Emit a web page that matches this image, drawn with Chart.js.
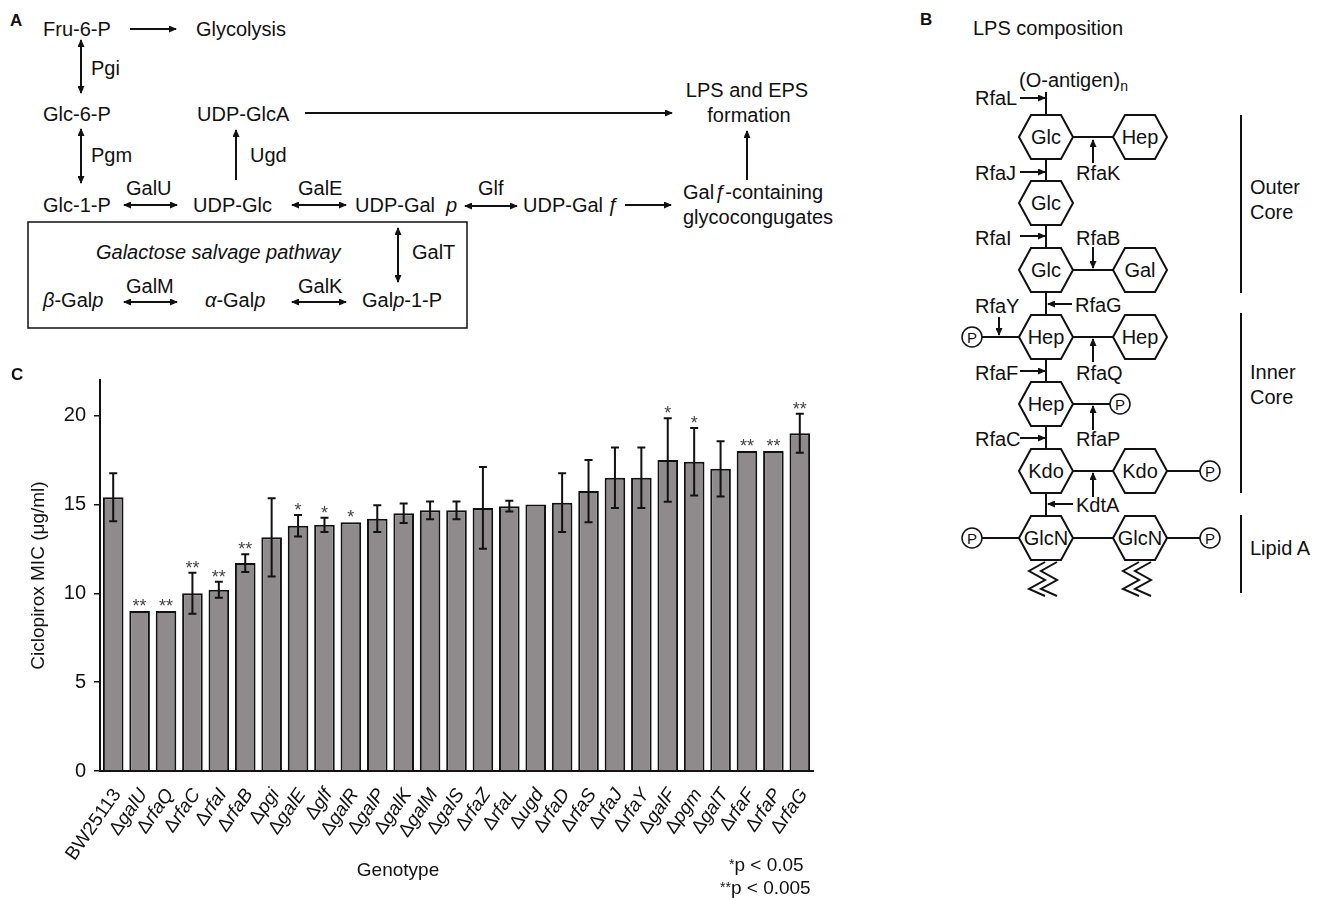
<!DOCTYPE html>
<html lang="en">
<head>
<meta charset="utf-8">
<title>Ciclopirox MIC</title>
<script src="https://cdn.jsdelivr.net/npm/chart.js@4/dist/chart.umd.min.js"></script>
<style>
    html, body { margin: 0; padding: 0; background: #fff; }
    body { width: 1320px; height: 898px; position: relative; overflow: hidden; font-family: 'Liberation Sans', Arial, sans-serif; }
    #diagramas { position: absolute; left: 0; top: 0; }
    #diagramas text { font-family: 'Liberation Sans', Arial, sans-serif; font-size: 20px; fill: #111; }
    #diagramas .it { font-style: italic; }
    #diagramas .bold { font-weight: bold; font-size: 17px; }
    #diagramas .lin { stroke: #111; stroke-width: 2; fill: none; }
    #caixaGrafico { position: absolute; left: 0; top: 360px; width: 840px; height: 538px; }
    .legenda { position: absolute; font-size: 19px; color: #111; white-space: nowrap; line-height: 1; }
    .legenda .ast { font-size: 14px; vertical-align: 2px; }
</style>
</head>
<body>

<!-- Painéis A e B (esquemas) -->
<svg id="diagramas" width="1320" height="898" xmlns="http://www.w3.org/2000/svg">
    <defs>
        <marker id="seta" viewBox="0 0 8 7" refX="7" refY="3.5" markerWidth="8" markerHeight="7"
                markerUnits="userSpaceOnUse" orient="auto-start-reverse">
            <path d="M0,0 L8,3.5 L0,7 z" fill="#111"/>
        </marker>
    </defs>

    <!-- A -->
    <text class="bold" x="10" y="26">A</text>
    <text x="43" y="36">Fru-6-P</text>
    <text x="196" y="36">Glycolysis</text>
    <text x="91" y="75">Pgi</text>
    <text x="43" y="121">Glc-6-P</text>
    <text x="197" y="121">UDP-GlcA</text>
    <text x="747" y="97" text-anchor="middle">LPS and EPS</text>
    <text x="749" y="122" text-anchor="middle">formation</text>
    <text x="91" y="162">Pgm</text>
    <text x="250" y="162">Ugd</text>
    <text x="43" y="212">Glc-1-P</text>
    <text x="126" y="195">GalU</text>
    <text x="193" y="212">UDP-Glc</text>
    <text x="298" y="195">GalE</text>
    <text x="355" y="212">UDP-Gal <tspan class="it" x="446">p</tspan></text>
    <text x="478" y="195">Glf</text>
    <text x="523" y="212">UDP-Gal<tspan class="it" x="607">ƒ</tspan></text>
    <text x="683" y="199">Gal<tspan class="it">ƒ</tspan>-containing</text>
    <text x="683" y="224">glycocongugates</text>
    <rect x="28" y="222" width="439" height="106" class="lin" style="stroke-width:1.5"/>
    <text class="it" x="96" y="259">Galactose salvage pathway</text>
    <text x="412" y="259">GalT</text>
    <text x="43" y="307"><tspan class="it">β</tspan>-Gal<tspan class="it">p</tspan></text>
    <text x="126" y="293">GalM</text>
    <text x="205" y="307"><tspan class="it">α</tspan>-Gal<tspan class="it">p</tspan></text>
    <text x="298" y="293">GalK</text>
    <text x="362" y="307">Gal<tspan class="it">p</tspan>-1-P</text>

    <line class="lin" x1="130" y1="29" x2="176" y2="29" marker-end="url(#seta)"/>
    <line class="lin" x1="81" y1="40" x2="81" y2="93" marker-start="url(#seta)" marker-end="url(#seta)"/>
    <line class="lin" x1="305" y1="113" x2="672" y2="113" marker-end="url(#seta)"/>
    <line class="lin" x1="81" y1="129" x2="81" y2="183" marker-start="url(#seta)" marker-end="url(#seta)"/>
    <line class="lin" x1="236" y1="180" x2="236" y2="130" marker-end="url(#seta)"/>
    <line class="lin" x1="747" y1="180" x2="747" y2="131" marker-end="url(#seta)"/>
    <line class="lin" x1="124" y1="205" x2="177" y2="205" marker-start="url(#seta)" marker-end="url(#seta)"/>
    <line class="lin" x1="292" y1="205" x2="346" y2="205" marker-start="url(#seta)" marker-end="url(#seta)"/>
    <line class="lin" x1="465" y1="206" x2="517" y2="206" marker-start="url(#seta)" marker-end="url(#seta)"/>
    <line class="lin" x1="625" y1="205" x2="671" y2="205" marker-end="url(#seta)"/>
    <line class="lin" x1="398" y1="228" x2="398" y2="282" marker-start="url(#seta)" marker-end="url(#seta)"/>
    <line class="lin" x1="124" y1="302" x2="177" y2="302" marker-start="url(#seta)" marker-end="url(#seta)"/>
    <line class="lin" x1="292" y1="302" x2="346" y2="302" marker-start="url(#seta)" marker-end="url(#seta)"/>

    <!-- B -->
    <text class="bold" x="920" y="25">B</text>
    <text x="973" y="35">LPS composition</text>
    <text x="1019" y="87">(O-antigen)<tspan font-size="14" dy="4">n</tspan></text>
    <g id="esqueletoB"></g>
</svg>

<div id="caixaGrafico"><canvas id="graficoMIC"></canvas></div>
<div class="legenda" style="left:729px; top:855px;"><span class="ast">*</span>p &lt; 0.05</div>
<div class="legenda" style="left:720px; top:878px;"><span class="ast">**</span>p &lt; 0.005</div>

<script>
// Dados do painel C
const genotipos = ['BW25113', 'ΔgalU', 'ΔrfaQ', 'ΔrfaC', 'ΔrfaI', 'ΔrfaB', 'Δpgi', 'ΔgalE', 'Δglf',
    'ΔgalR', 'ΔgalP', 'ΔgalK', 'ΔgalM', 'ΔgalS', 'ΔrfaZ', 'ΔrfaL', 'Δugd', 'ΔrfaD', 'ΔrfaS',
    'ΔrfaJ', 'ΔrfaY', 'ΔgalF', 'Δpgm', 'ΔgalT', 'ΔrfaF', 'ΔrfaP', 'ΔrfaG'];
const mic = [15.4, 9, 9, 10, 10.2, 11.7, 13.15, 13.8, 13.85, 14, 14.2, 14.5, 14.67, 14.67,
    14.8, 14.9, 15, 15.1, 15.75, 16.5, 16.5, 17.5, 17.4, 17, 18, 18, 19];
const erroPadrao = [1.35, 0, 0, 1.15, 0.45, 0.5, 2.2, 0.6, 0.4, 0, 0.75, 0.55, 0.5, 0.5,
    2.3, 0.3, 0, 1.65, 1.75, 1.7, 1.7, 2.35, 1.9, 1.55, 0, 0, 1.1];
const significancia = ['', '**', '**', '**', '**', '**', '', '*', '*', '*', '', '', '', '',
    '', '', '', '', '', '', '', '*', '*', '', '**', '**', '**'];
const yMax = 22;
const yPasso = 5;

const FONTE = "'Liberation Sans', Arial, sans-serif";

// Esqueleto do LPS (painel B) desenhado em SVG
function desenharLPS() {
    const g = document.getElementById('esqueletoB');
    let html = '';
    const linha = (x1, y1, x2, y2, seta) =>
        `<line class="lin" x1="${x1}" y1="${y1}" x2="${x2}" y2="${y2}"${seta ? ' marker-end="url(#seta)"' : ''}/>`;
    const texto = (x, y, t, extra) => `<text x="${x}" y="${y + 7}" ${extra || ''}>${t}</text>`;
    const hexagono = (cx, cy, nome) => {
        const p = [[cx - 27, cy], [cx - 15, cy - 22], [cx + 15, cy - 22], [cx + 27, cy], [cx + 15, cy + 22], [cx - 15, cy + 22]];
        return `<polygon class="lin" points="${p.map(v => v.join(',')).join(' ')}"/>` +
            texto(cx, cy, nome, 'text-anchor="middle"');
    };
    const fosfato = (cx, cy) => `<circle class="lin" cx="${cx}" cy="${cy}" r="10" style="stroke-width:1.5"/>` +
        `<text x="${cx}" y="${cy + 5.5}" text-anchor="middle" style="font-size:15px">P</text>`;

    const xc = 1046, xd = 1140;
    const ys = [137, 203, 270, 337, 404, 471, 538];

    // ligações verticais
    html += linha(xc, 92, xc, 115);
    for (let i = 0; i < ys.length - 1; i++) html += linha(xc, ys[i] + 22, xc, ys[i + 1] - 22);
    // ligações horizontais
    html += linha(1073, 137, 1113, 137) + linha(1073, 270, 1113, 270) + linha(1073, 337, 1113, 337);
    html += linha(982, 337, 1019, 337) + linha(1073, 404, 1110, 404);
    html += linha(1073, 471, 1113, 471) + linha(1167, 471, 1200, 471);
    html += linha(982, 538, 1019, 538) + linha(1073, 538, 1113, 538) + linha(1167, 538, 1200, 538);

    html += hexagono(xc, 137, 'Glc') + hexagono(xd, 137, 'Hep');
    html += hexagono(xc, 203, 'Glc');
    html += hexagono(xc, 270, 'Glc') + hexagono(xd, 270, 'Gal');
    html += hexagono(xc, 337, 'Hep') + hexagono(xd, 337, 'Hep');
    html += hexagono(xc, 404, 'Hep');
    html += hexagono(xc, 471, 'Kdo') + hexagono(xd, 471, 'Kdo');
    html += hexagono(xc, 538, 'GlcN') + hexagono(xd, 538, 'GlcN');
    html += fosfato(972, 337) + fosfato(1120, 404) + fosfato(1210, 471) + fosfato(972, 538) + fosfato(1210, 538);

    // enzimas
    html += texto(975, 98, 'RfaL') + linha(1020, 98, 1045, 98, true);
    html += texto(1076, 173, 'RfaK') + linha(1093, 163, 1093, 140, true);
    html += texto(975, 173, 'RfaJ') + linha(1020, 172, 1045, 172, true);
    html += texto(975, 238, 'RfaI') + linha(1020, 236, 1045, 236, true);
    html += texto(1076, 238, 'RfaB') + linha(1093, 247, 1093, 268, true);
    html += texto(975, 306, 'RfaY') + linha(999, 317, 999, 335, true);
    html += texto(1075, 305, 'RfaG') + linha(1072, 304, 1048, 304, true);
    html += texto(1076, 373, 'RfaQ') + linha(1093, 362, 1093, 339, true);
    html += texto(975, 373, 'RfaF') + linha(1020, 371, 1045, 371, true);
    html += texto(1076, 439, 'RfaP') + linha(1093, 430, 1093, 406, true);
    html += texto(975, 439, 'RfaC') + linha(1020, 438, 1045, 438, true);
    html += linha(1093, 497, 1093, 473, true);
    html += texto(1076, 505, 'KdtA') + linha(1073, 504, 1048, 504, true);

    // cadeias lipídicas
    [1043, 1137].forEach(cx => {
        [-6, 6].forEach(dx => {
            const x = cx + dx;
            html += `<polyline class="lin" points="${x + 8},562 ${x - 8},571 ${x + 8},580 ${x - 8},589 ${x + 8},596"/>`;
        });
    });

    // chaves laterais
    html += linha(1241, 115, 1241, 293) + linha(1241, 313, 1241, 493) + linha(1241, 515, 1241, 593);
    html += texto(1250, 187, 'Outer') + texto(1250, 212, 'Core');
    html += texto(1250, 372, 'Inner') + texto(1250, 397, 'Core');
    html += texto(1250, 548, 'Lipid A');

    g.innerHTML = html;
}

// Plugin: barras de erro, asteriscos, rótulos do eixo x e letra do painel
const pluginExtras = {
    id: 'extras',
    afterDatasetsDraw(chart) {
        const ctx = chart.ctx;
        const yScale = chart.scales.y;
        const meta = chart.getDatasetMeta(0);
        ctx.save();
        ctx.strokeStyle = '#111';
        ctx.lineWidth = 2;
        meta.data.forEach((barra, i) => {
            let topo = yScale.getPixelForValue(mic[i]);
            const e = erroPadrao[i];
            if (e > 0) {
                const y1 = yScale.getPixelForValue(mic[i] + e);
                const y2 = yScale.getPixelForValue(mic[i] - e);
                ctx.beginPath();
                ctx.moveTo(barra.x, y1); ctx.lineTo(barra.x, y2);
                ctx.moveTo(barra.x - 4, y1); ctx.lineTo(barra.x + 4, y1);
                ctx.moveTo(barra.x - 4, y2); ctx.lineTo(barra.x + 4, y2);
                ctx.stroke();
                topo = y1;
            }
            if (significancia[i]) {
                ctx.fillStyle = '#444';
                ctx.font = '18px ' + FONTE;
                ctx.textAlign = 'center';
                ctx.textBaseline = 'alphabetic';
                ctx.fillText(significancia[i], barra.x, topo + 1);
            }
        });
        ctx.restore();
    },
    afterDraw(chart) {
        const ctx = chart.ctx;
        const xScale = chart.scales.x;
        const base = chart.chartArea.bottom;
        const angulo = 55 * Math.PI / 180;
        ctx.save();
        ctx.fillStyle = '#111';
        ctx.textBaseline = 'middle';
        ctx.textAlign = 'left';
        genotipos.forEach((nome, i) => {
            const partes = nome.startsWith('Δ')
                ? [['Δ', '19px ' + FONTE], [nome.slice(1), 'italic 19px ' + FONTE]]
                : [[nome, '19px ' + FONTE]];
            let total = 0;
            partes.forEach(p => { ctx.font = p[1]; total += ctx.measureText(p[0]).width; });
            ctx.save();
            ctx.translate(xScale.getPixelForValue(i) + 4, base + 20);
            ctx.rotate(-angulo);
            let x = -total;
            partes.forEach(p => { ctx.font = p[1]; ctx.fillText(p[0], x, 0); x += ctx.measureText(p[0]).width; });
            ctx.restore();
        });
        // título do eixo x
        ctx.font = '19px ' + FONTE;
        ctx.textAlign = 'center';
        ctx.fillText('Genotype', 398, 511);
        // letra do painel
        ctx.font = 'bold 17px ' + FONTE;
        ctx.textAlign = 'left';
        ctx.fillText('C', 11, 15);
        ctx.restore();
    }
};

function inicializarGrafico() {
    const ctx = document.getElementById('graficoMIC').getContext('2d');
    new Chart(ctx, {
        type: 'bar',
        data: {
            labels: genotipos,
            datasets: [{
                data: mic,
                backgroundColor: '#8f8b8c',
                borderColor: '#111',
                borderWidth: 2,
                categoryPercentage: 1,
                barPercentage: 0.78
            }]
        },
        options: {
            responsive: true,
            maintainAspectRatio: false,
            devicePixelRatio: 1,
            animation: false,
            layout: { padding: { top: 13, right: 27, left: 0, bottom: 0 } },
            plugins: {
                legend: { display: false },
                tooltip: { enabled: false }
            },
            scales: {
                x: {
                    grid: { display: false },
                    border: { display: true, color: '#111', width: 2 },
                    ticks: { display: false },
                    afterFit: s => { s.height = 127; }
                },
                y: {
                    min: 0,
                    max: yMax,
                    grid: { display: true, drawOnChartArea: false, drawTicks: true, tickLength: 6, color: '#111', lineWidth: 1.5 },
                    border: { display: true, color: '#111', width: 2 },
                    ticks: {
                        stepSize: yPasso,
                        includeBounds: false,
                        padding: 8,
                        color: '#111',
                        font: { family: FONTE, size: 20 }
                    },
                    title: {
                        display: true,
                        text: 'Ciclopirox MIC (μg/ml)',
                        color: '#111',
                        font: { family: FONTE, size: 19 },
                        padding: { top: 27, bottom: 0 }
                    },
                    afterFit: s => { s.width = 100; }
                }
            }
        },
        plugins: [pluginExtras]
    });
}

document.addEventListener('DOMContentLoaded', function() {
    desenharLPS();
    inicializarGrafico();
});
</script>
</body>
</html>
